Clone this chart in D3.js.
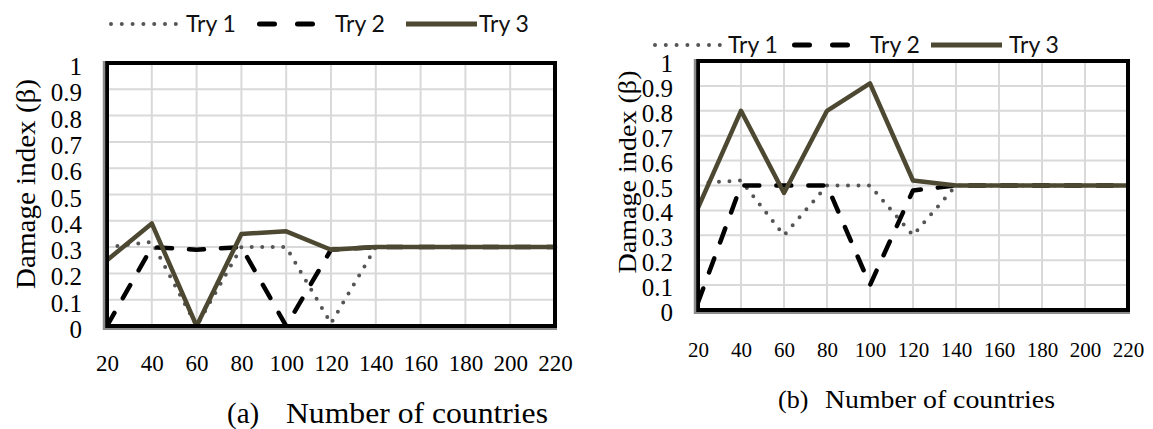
<!DOCTYPE html>
<html>
<head>
<meta charset="utf-8">
<script src="https://cdn.jsdelivr.net/npm/d3@7"></script>
<style>
  html, body { margin: 0; padding: 0; background: #ffffff; }
  svg { display: block; }
</style>
</head>
<body>
<svg id="fig" width="1153" height="429"></svg>
<script>
// Number of countries (x categories) and damage index ticks
const countries = [20, 40, 60, 80, 100, 120, 140, 160, 180, 200, 220];
const yTicks = [0, 0.1, 0.2, 0.3, 0.4, 0.5, 0.6, 0.7, 0.8, 0.9, 1];
const seriesNames = ["Try 1", "Try 2", "Try 3"];

// Panel (a)
const try1A = [0.30, 0.32, 0.00, 0.30, 0.30, 0.01, 0.30, 0.30, 0.30, 0.30, 0.30];
const try2A = [0.00, 0.30, 0.29, 0.30, 0.00, 0.29, 0.30, 0.30, 0.30, 0.30, 0.30];
const try3A = [0.25, 0.39, 0.00, 0.35, 0.36, 0.29, 0.30, 0.30, 0.30, 0.30, 0.30];

// Panel (b)
const try1B = [0.51, 0.52, 0.30, 0.50, 0.50, 0.30, 0.50, 0.50, 0.50, 0.50, 0.50];
const try2B = [0.03, 0.50, 0.50, 0.50, 0.10, 0.48, 0.50, 0.50, 0.50, 0.50, 0.50];
const try3B = [0.41, 0.80, 0.47, 0.80, 0.91, 0.52, 0.50, 0.50, 0.50, 0.50, 0.50];

const svg = d3.select("#fig");
const serif = "'Liberation Serif', 'Times New Roman', serif";
const sans = "Lato, 'Open Sans', sans-serif";

const styles = [
  { color: "#555555", width: 4, dash: "0,10.5", cap: "round" },
  { color: "#000000", width: 4.5, dash: "15,17", cap: "round" },
  { color: "#4d4831", width: 4.5, dash: null, cap: "butt" }
];

function drawPanel(p) {
  const g = svg.append("g");
  const x = d3.scaleLinear().domain([20, 220]).range([p.left, p.right]);
  const y = d3.scaleLinear().domain([0, 1]).range([p.bottom, p.top]);

  // grid
  g.append("g").selectAll("line").data(countries).join("line")
    .attr("x1", d => x(d)).attr("x2", d => x(d))
    .attr("y1", p.top).attr("y2", p.bottom)
    .attr("stroke", "#d9d9d9").attr("stroke-width", 2);
  g.append("g").selectAll("line").data(yTicks).join("line")
    .attr("x1", p.left).attr("x2", p.right)
    .attr("y1", d => y(d)).attr("y2", d => y(d))
    .attr("stroke", "#d9d9d9").attr("stroke-width", 2);

  // series
  const line = d3.line().x((d, i) => x(countries[i])).y(d => y(d));
  p.series.forEach((vals, k) => {
    const s = styles[k];
    g.append("path").datum(vals)
      .attr("d", line)
      .attr("fill", "none")
      .attr("stroke", s.color)
      .attr("stroke-width", s.width)
      .attr("stroke-linecap", s.cap)
      .attr("stroke-linejoin", "round")
      .attr("stroke-dasharray", s.dash);
  });

  // frame
  g.append("rect")
    .attr("x", p.left).attr("y", p.top)
    .attr("width", p.right - p.left).attr("height", p.bottom - p.top)
    .attr("fill", "none").attr("stroke", "#000").attr("stroke-width", 4);
  g.append("line")
    .attr("x1", p.left - 3).attr("x2", p.left - 3)
    .attr("y1", p.top - 2).attr("y2", p.bottom + 4)
    .attr("stroke", "#8c8c8c").attr("stroke-width", 2.5);
  g.append("line")
    .attr("x1", p.left - 4).attr("x2", p.right + 2)
    .attr("y1", p.bottom + 3).attr("y2", p.bottom + 3)
    .attr("stroke", "#8c8c8c").attr("stroke-width", 2);

  // y axis labels
  const yAxis = d3.axisLeft(y).tickValues(yTicks).tickSize(0)
    .tickFormat(d => String(+d.toFixed(1)));
  const ya = g.append("g").attr("transform", `translate(${p.yLabelX},${p.yLabelDy})`).call(yAxis);
  ya.select(".domain").remove();
  ya.selectAll("text").attr("x", 0).attr("dy", "0.34em")
    .style("font-family", serif).style("font-size", "25px").attr("fill", "#000");

  // x axis labels
  const xAxis = d3.axisBottom(x).tickValues(countries).tickSize(0);
  const xa = g.append("g").attr("transform", `translate(0,${p.xLabelY})`).call(xAxis);
  xa.select(".domain").remove();
  xa.selectAll("text").attr("y", 0).attr("dy", "0.35em")
    .style("font-family", serif).style("font-size", p.xFont + "px").attr("fill", "#000");

  // axis titles
  g.append("text")
    .attr("transform", `translate(${p.yTitleX},${p.yTitleY}) rotate(-90)`)
    .attr("text-anchor", "middle").attr("dy", "0.35em")
    .style("font-family", serif).style("font-size", p.yTitleFont + "px")
    .attr("textLength", p.yTitleLen).attr("lengthAdjust", "spacingAndGlyphs")
    .text("Damage index (β)");
  g.append("text")
    .attr("x", p.capX).attr("y", p.capY).attr("dy", "0.35em")
    .style("font-family", serif).style("font-size", p.capFont + "px")
    .text(p.cap);
  g.append("text")
    .attr("x", p.titleX).attr("y", p.capY).attr("dy", "0.35em")
    .style("font-family", serif).style("font-size", p.capFont + "px")
    .attr("textLength", p.titleLen).attr("lengthAdjust", "spacingAndGlyphs")
    .text("Number of countries");

  // legend
  const lg = g.append("g");
  const L = p.legend;
  lg.append("line").attr("x1", L.dot[0]).attr("x2", L.dot[1]).attr("y1", L.y).attr("y2", L.y)
    .attr("stroke", styles[0].color).attr("stroke-width", 4).attr("stroke-linecap", "round")
    .attr("stroke-dasharray", "0,10.8");
  lg.append("line").attr("x1", L.dash[0] + 2.5).attr("x2", L.dash[1] - 2.5).attr("y1", L.y).attr("y2", L.y)
    .attr("stroke", "#000").attr("stroke-width", 5).attr("stroke-linecap", "round")
    .attr("stroke-dasharray", `15,${(L.dash[1] - L.dash[0] - 5) - 30}`);
  lg.append("line").attr("x1", L.solid[0]).attr("x2", L.solid[1]).attr("y1", L.y).attr("y2", L.y)
    .attr("stroke", styles[2].color).attr("stroke-width", 5);
  L.text.forEach((tx, i) => {
    lg.append("text").attr("x", tx).attr("y", L.y).attr("dy", "0.36em")
      .style("font-family", sans).style("font-size", "23px").attr("fill", "#111")
      .text(seriesNames[i]);
  });
}

drawPanel({
  left: 107, right: 555, top: 63, bottom: 326,
  yLabelX: 82, yLabelDy: 3,
  xLabelY: 363, xFont: 23,
  yTitleX: 25, yTitleY: 184, yTitleLen: 210, yTitleFont: 28,
  cap: "(a)", capX: 227, capY: 413, capFont: 29,
  titleX: 286, titleLen: 262,
  series: [try1A, try2A, try3A],
  legend: { y: 24, dot: [111, 176], dash: [257, 315], solid: [406, 477], text: [186, 335, 479] }
});

drawPanel({
  left: 698, right: 1128, top: 61, bottom: 310,
  yLabelX: 673, yLabelDy: 2,
  xLabelY: 350, xFont: 21,
  yTitleX: 627, yTitleY: 172, yTitleLen: 203, yTitleFont: 26,
  cap: "(b)", capX: 778, capY: 399, capFont: 26,
  titleX: 825, titleLen: 230,
  series: [try1B, try2B, try3B],
  legend: { y: 45, dot: [655, 721], dash: [792, 850], solid: [931, 1002], text: [728, 870, 1009] }
});
</script>
</body>
</html>
